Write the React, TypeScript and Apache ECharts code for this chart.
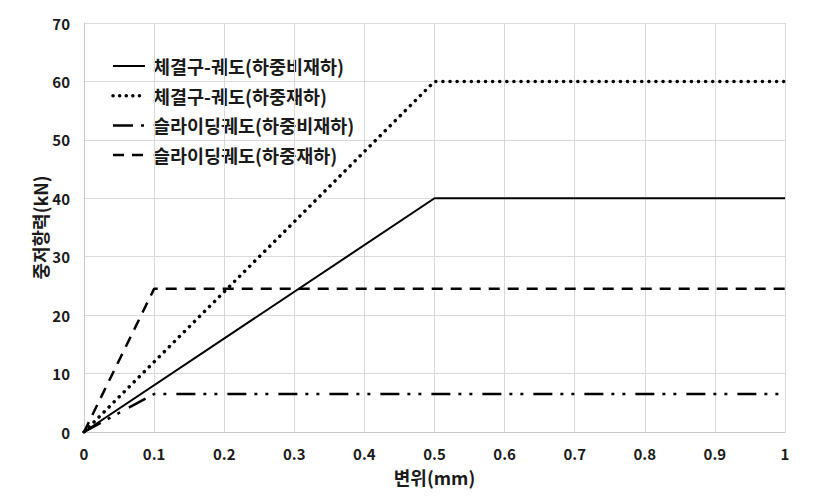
import React, { useEffect, useRef } from "react";
import * as echarts from "echarts";

const seriesNames = [
  "체결구-궤도(하중비재하)",
  "체결구-궤도(하중재하)",
  "슬라이딩궤도(하중비재하)",
  "슬라이딩궤도(하중재하)",
];
const fastenerUnloaded: [number, number][] = [[0, 0], [0.5, 40], [1, 40]];
const fastenerLoaded: [number, number][] = [[0, 0], [0.5, 60], [1, 60]];
const slidingUnloaded: [number, number][] = [[0, 0], [0.1, 6.5], [1, 6.5]];
const slidingLoaded: [number, number][] = [[0, 0], [0.1, 24.5], [1, 24.5]];
const xAxisName = "변위(mm)";
const yAxisName = "중저항력(kN)";

const FONT = "'Noto Sans CJK KR', 'Noto Sans', sans-serif";

const lineStyles: any[] = [
  { width: 2, type: "solid" },
  { width: 3.5, type: [0.1, 7], cap: "round" },
  { width: 2.5, type: [19, 8, 3, 8, 3, 10] },
  { width: 2.5, type: [11, 8] },
];

export default function App() {
  const ref = useRef<HTMLDivElement>(null);
  useEffect(() => {
    if (!ref.current) return;
    const chart = echarts.init(ref.current, undefined, { renderer: "svg" });
    const legendGraphics: any[] = [];
    const legendDash: any[] = [null, [0.1, 6.5], [20, 8, 3, 100], [11, 8]];
    seriesNames.forEach((name, i) => {
      const y = 58 + i * 29.7;
      legendGraphics.push({
        type: "line",
        shape: { x1: 105, y1: y, x2: 137, y2: y },
        style: {
          stroke: "#000",
          lineWidth: lineStyles[i].width,
          lineDash: legendDash[i] || undefined,
          lineCap: i === 1 ? "round" : "butt",
        },
      });
      legendGraphics.push({
        type: "text",
        x: 145,
        y,
        style: {
          text: name,
          fontFamily: FONT,
          fontSize: 18.5,
          fontWeight: "bold",
          fill: "#1a1a1a",
          verticalAlign: "middle",
        },
      });
    });
    const lineSeries = (name: string, data: [number, number][], lineStyle: any) => ({
      name,
      type: "line",
      data,
      symbol: "none",
      lineStyle: { color: "#000", ...lineStyle },
      itemStyle: { color: "#000" },
    });
    chart.setOption({
      animation: false,
      backgroundColor: "#fff",
      textStyle: { fontFamily: FONT },
      grid: { left: 76, right: 43, top: 15, bottom: 55 },
      graphic: legendGraphics,
      xAxis: {
        type: "value",
        min: 0,
        max: 1,
        interval: 0.1,
        name: xAxisName,
        nameLocation: "middle",
        nameGap: 36,
        nameTextStyle: { fontFamily: FONT, fontSize: 18, fontWeight: "bold", color: "#1a1a1a" },
        axisLine: { lineStyle: { color: "#c8c8c8" } },
        axisTick: { show: false },
        axisLabel: {
          margin: 14,
          fontSize: 15,
          fontWeight: "bold",
          color: "#1a1a1a",
          fontFamily: FONT,
          formatter: (v: number) => String(+v.toFixed(1)),
        },
        splitLine: { show: true, lineStyle: { color: "#d9d9d9" } },
      },
      yAxis: {
        type: "value",
        min: 0,
        max: 70,
        interval: 10,
        name: yAxisName,
        nameLocation: "middle",
        nameGap: 35,
        nameMoveOverlap: false,
        nameTextStyle: { fontFamily: FONT, fontSize: 18, fontWeight: "bold", color: "#1a1a1a" },
        axisLine: { show: true, lineStyle: { color: "#c8c8c8" } },
        axisTick: { show: false },
        axisLabel: { margin: 14, fontSize: 15, fontWeight: "bold", color: "#1a1a1a", fontFamily: FONT },
        splitLine: { show: true, lineStyle: { color: "#d9d9d9" } },
      },
      series: seriesNames.map((n, i) =>
        lineSeries(n, [fastenerUnloaded, fastenerLoaded, slidingUnloaded, slidingLoaded][i], lineStyles[i])
      ),
    });
    return () => chart.dispose();
  }, []);
  return <div ref={ref} style={{ width: 820, height: 483 }} />;
}
